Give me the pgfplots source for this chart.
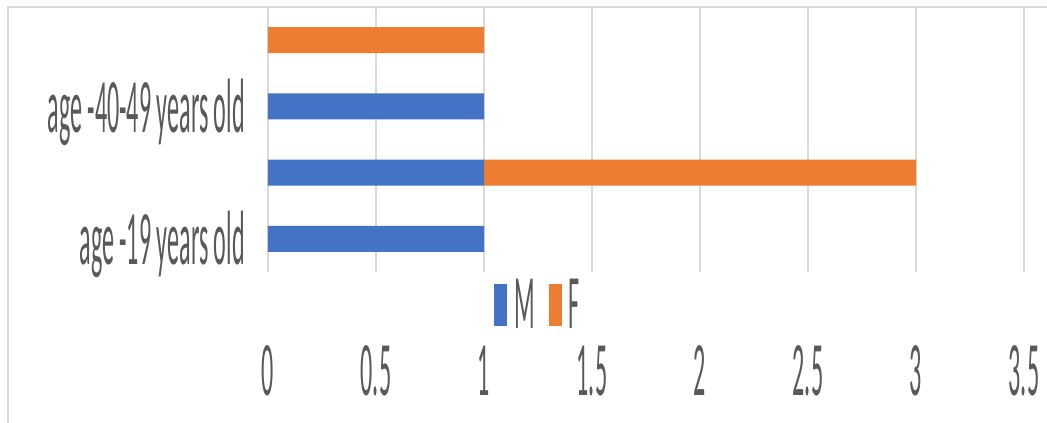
\documentclass[border=0pt]{standalone}
\usepackage{pgfplots}
\pgfplotsset{compat=1.18}
\usepackage{fontspec}
\newfontfamily\chartfont[FakeStretch=0.313]{Carlito}
\definecolor{mblue}{HTML}{4472C4}
\definecolor{forange}{HTML}{ED7D31}
\definecolor{gridgray}{HTML}{D9D9D9}
\definecolor{txtgray}{HTML}{595959}
\newcommand{\lbl}{\chartfont\fontsize{77}{84}\selectfont}
\begin{document}
\begin{tikzpicture}
\useasboundingbox (0pt,0pt) rectangle (1047pt,423pt);
% chart frame
\draw[gridgray, line width=2pt] (8pt,-10pt) -- (8pt,416pt) -- (1060pt,416pt);
\begin{axis}[
  at={(268pt,151pt)}, anchor=south west,
  scale only axis, width=756pt, height=265pt,
  xbar stacked, bar width=26pt,
  xmin=0, xmax=3.5, ymin=-0.5, ymax=3.5,
  xtick={0,0.5,1,1.5,2,2.5,3,3.5},
  xticklabels={0,0.5,1,1.5,2,2.5,3,3.5},
  ytick={0,2},
  yticklabels={age -19 years old, age -40-49 years old},
  xmajorgrids,
  major grid style={draw=gridgray, line width=1.3pt},
  axis line style={draw=none},
  major tick length=0pt,
  tick label style={font=\lbl, text=txtgray, inner sep=0pt},
  xticklabel style={anchor=center, yshift=-99pt},
  yticklabel style={anchor=east, xshift=-23pt, yshift=-6pt},
  legend columns=2,
  legend style={draw=none, fill=none, font=\lbl, text=txtgray,
    at={(0.3558,-0.1245)}, anchor=center, inner sep=0pt,
    nodes={inner sep=0pt},
    /tikz/every odd column/.append style={column sep=7pt},
    /tikz/every even column/.append style={column sep=14pt}},
]
\addplot[fill=mblue, draw=none,
  legend image code/.code={\fill[mblue] (0pt,-21pt) rectangle (13pt,21pt);}]
  coordinates {(1,0) (1,1) (1,2) (0,3)};
\addplot[fill=forange, draw=none,
  legend image code/.code={\fill[forange] (0pt,-21pt) rectangle (13pt,21pt);}]
  coordinates {(0,0) (2,1) (0,2) (1,3)};
\legend{M, F}
\end{axis}
\end{tikzpicture}
\end{document}
